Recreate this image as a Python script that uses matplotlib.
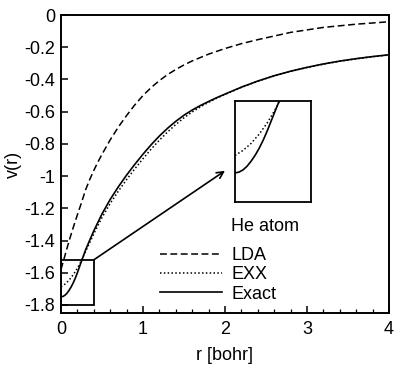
import matplotlib
matplotlib.use("Agg")
import matplotlib.pyplot as plt
from matplotlib.patches import Rectangle
from matplotlib.ticker import MultipleLocator

plt.rcParams['font.family'] = ['Liberation Sans', 'DejaVu Sans']

r_lda = [0.0, 0.05, 0.1, 0.15, 0.2, 0.25, 0.3, 0.35, 0.4, 0.45, 0.5, 0.6, 0.7, 0.8, 0.9, 1.0, 1.1, 1.2, 1.3, 1.4, 1.5, 1.6, 1.8, 2.0, 2.2, 2.4, 2.8, 3.2, 3.6, 4.0]
v_lda = [-1.58, -1.49, -1.40, -1.318, -1.24, -1.165, -1.085, -1.022, -0.965, -0.913, -0.865, -0.775, -0.695, -0.624, -0.558, -0.500, -0.450, -0.407, -0.370, -0.338, -0.310, -0.285, -0.243, -0.208, -0.178, -0.153, -0.108, -0.077, -0.057, -0.042]

r_exx = [0.0, 0.05, 0.1, 0.15, 0.2, 0.25, 0.3, 0.35, 0.4, 0.5, 0.6, 0.7, 0.8, 0.9, 1.0, 1.1, 1.2, 1.3, 1.4, 1.5, 1.6, 1.7, 1.8, 1.9, 2.0, 2.2, 2.4, 2.6, 2.8, 3.0, 3.2, 3.4, 3.6, 3.8, 4.0]
v_exx = [-1.688, -1.670, -1.645, -1.612, -1.572, -1.524, -1.468, -1.413, -1.358, -1.257, -1.170, -1.093, -1.022, -0.955, -0.892, -0.832, -0.777, -0.726, -0.680, -0.638, -0.602, -0.570, -0.542, -0.516, -0.493, -0.449, -0.411, -0.378, -0.350, -0.326, -0.305, -0.287, -0.272, -0.259, -0.248]

r_ex = [0.0, 0.025, 0.05, 0.075, 0.1, 0.125, 0.15, 0.175, 0.2, 0.25, 0.3, 0.35, 0.4, 0.5, 0.6, 0.7, 0.8, 0.9, 1.0, 1.1, 1.2, 1.3, 1.4, 1.5, 1.6, 1.7, 1.8, 1.9, 2.0, 2.2, 2.4, 2.6, 2.8, 3.0, 3.2, 3.4, 3.6, 3.8, 4.0]
v_ex = [-1.750, -1.747, -1.739, -1.726, -1.708, -1.687, -1.662, -1.633, -1.600, -1.528, -1.458, -1.398, -1.340, -1.235, -1.145, -1.066, -0.994, -0.927, -0.864, -0.805, -0.751, -0.703, -0.660, -0.622, -0.590, -0.562, -0.537, -0.513, -0.491, -0.448, -0.410, -0.377, -0.349, -0.325, -0.304, -0.286, -0.271, -0.258, -0.247]

fig = plt.figure(figsize=(4.2, 3.74), dpi=100)
ax = fig.add_axes([61/420, 61/374, 328/420, 298/374])

ax.plot(r_lda, v_lda, color='black', lw=1.1, linestyle=(0, (4.5, 2.3)), label='LDA')
ax.plot(r_exx, v_exx, color='black', lw=1.1, linestyle=(0, (1, 1.5)), label='EXX')
ax.plot(r_ex, v_ex, color='black', lw=1.2, linestyle='-', label='Exact')

ax.set_xlim(0, 4)
ax.set_ylim(-1.85, 0)
ax.xaxis.set_major_locator(MultipleLocator(1))
ax.xaxis.set_minor_locator(MultipleLocator(0.2))
ax.set_yticks([0, -0.2, -0.4, -0.6, -0.8, -1.0, -1.2, -1.4, -1.6, -1.8])
ax.set_yticklabels(['0', '-0.2', '-0.4', '-0.6', '-0.8', '-1', '-1.2', '-1.4', '-1.6', '-1.8'])
ax.tick_params(direction='in', which='major', length=5, width=1.1, labelsize=13)
ax.tick_params(direction='in', which='minor', length=3, width=0.9)
ax.tick_params(axis='x', which='major', pad=6)
ax.tick_params(axis='y', which='major', pad=4)
for s in ax.spines.values():
    s.set_linewidth(1.4)

ax.set_xlabel('r [bohr]', fontsize=13, labelpad=6)
ax.set_ylabel('v(r)', fontsize=13, labelpad=2)

ax.add_patch(Rectangle((0, -1.8), 0.4, 0.28, fill=False, lw=1.3, edgecolor='black', zorder=5))
ax.annotate('', xy=(2.0, -0.967), xytext=(0.4, -1.52),
            arrowprops=dict(arrowstyle='->', lw=1.2, color='black', shrinkA=0, shrinkB=0,
                            mutation_scale=12))

leg = ax.legend(frameon=False, fontsize=13,
                handlelength=3.44, handletextpad=0.5, labelspacing=0.12,
                loc='lower left', bbox_to_anchor=(0.302, 0.035), borderaxespad=0, borderpad=0)
ax.text(0.518, 0.29, 'He atom', transform=ax.transAxes, fontsize=13, ha='left', va='center')

ins = fig.add_axes([235/420, (374-202)/374, 76/420, 101/374])
ins.plot(r_exx, v_exx, color='black', lw=1.1, linestyle=(0, (1, 1.5)))
ins.plot(r_ex, v_ex, color='black', lw=1.2, linestyle='-')
ins.set_xlim(0, 0.47)
ins.set_ylim(-1.853, -1.495)
ins.set_xticks([])
ins.set_yticks([])
for s in ins.spines.values():
    s.set_linewidth(1.3)

fig.savefig('out.png', dpi=100)
